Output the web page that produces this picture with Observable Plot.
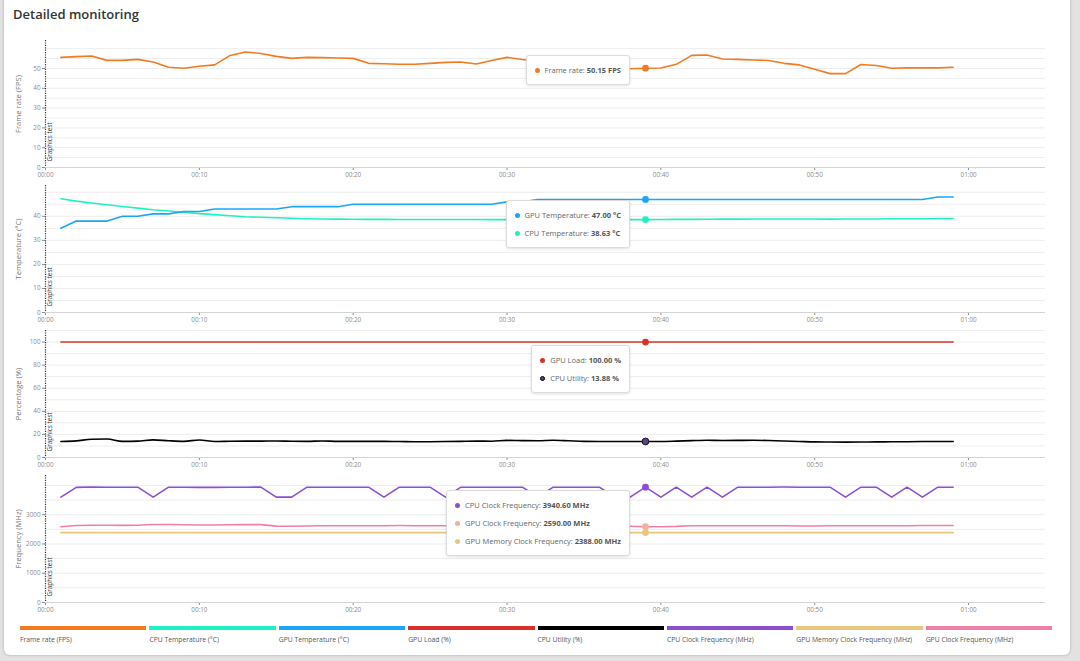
<!DOCTYPE html>
<html><head><meta charset="utf-8">
<script src="https://cdn.jsdelivr.net/npm/d3@7"></script>
<script src="https://cdn.jsdelivr.net/npm/@observablehq/plot@0.6"></script>
<style>
html,body{margin:0;padding:0;width:1080px;height:661px;overflow:hidden;background:#e2e2e2;font-family:"Open Sans",sans-serif;}
#card{position:absolute;left:4px;top:-8px;width:1066px;height:663px;background:#fff;border-radius:6px;box-shadow:0 0 3px rgba(0,0,0,.25);}
#title{position:absolute;left:13px;top:5px;font-size:13px;font-weight:600;color:#333;}
.panel{position:absolute;left:0;width:1080px;height:145px;}
.panel svg{display:block;}
.tip{position:absolute;background:#fff;border:1px solid #dcdcdc;border-radius:3px;box-shadow:0 1px 3px rgba(0,0,0,.12);padding:5px 8px 5px 8px;font-size:7.5px;line-height:18px;color:#666;white-space:nowrap;}
.tip b{color:#555;font-weight:700;}
.tip .dot{display:inline-block;width:5px;height:5px;border-radius:50%;margin-right:5px;vertical-align:middle;position:relative;top:-1px;box-sizing:border-box;}
#legend{position:absolute;left:20px;top:626px;width:1032px;display:flex;gap:3px;}
.li{flex:1}
.li .bar{height:3.5px}
.li .lab{font-size:6.8px;color:#555;margin-top:5px;white-space:nowrap}
</style></head><body>
<div id="card"></div>
<div id="title">Detailed monitoring</div>
<div id="panels"></div>
<div id="legend"></div>
<script>
const time = [1,2,3,4,5,6,7,8,9,10,11,12,13,14,15,16,17,18,19,20,21,22,23,24,25,26,27,28,29,30,31,32,33,34,35,36,37,38,39,40,41,42,43,44,45,46,47,48,49,50,51,52,53,54,55,56,57,58,59];
const xTicks = [0,10,20,30,40,50,60];

const fps = [55.6,56.0,56.3,54.1,54.1,54.6,53.3,50.6,50.1,51.1,
 51.8,56.6,58.3,57.6,56.1,55.1,55.6,55.5,55.3,55.1,
 52.6,52.4,52.1,52.1,52.6,53.1,53.3,52.3,54.0,55.6,
 54.5,53.5,52.5,51.5,51.0,50.5,50.2,49.9,50.15,50.25,
 52.1,56.6,56.8,54.8,54.6,54.3,54.0,52.6,51.8,49.6,
 47.4,47.4,52.0,51.5,50.1,50.3,50.3,50.3,50.6];
const gpuTemp = [35,38,38,38,40,40,41,41,42,42,
 43,43,43,43,43,44,44,44,44,45,
 45,45,45,45,45,45,45,45,45,46,
 46,47,47,47,47,47,47,47,47,47,
 47,47,47,47,47,47,47,47,47,47,
 47,47,47,47,47,47,47,48,48];
const cpuTemp = [47.3,46.3,45.5,44.8,44.1,43.4,42.7,42.2,41.7,41.1,
 40.7,40.2,39.8,39.6,39.4,39.2,39.0,38.9,38.8,38.75,
 38.7,38.7,38.68,38.66,38.65,38.65,38.64,38.64,38.63,38.63,
 38.63,38.63,38.63,38.63,38.63,38.63,38.63,38.63,38.63,38.65,
 38.7,38.7,38.75,38.8,38.8,38.85,38.9,38.9,38.85,38.85,
 38.8,38.85,38.9,38.9,38.95,39.0,39.0,39.05,39.1];
const gpuLoad = [100,100,100,100,100,100,100,100,100,100,
 100,100,100,100,100,100,100,100,100,100,
 100,100,100,100,100,100,100,100,100,100,
 100,100,100,100,100,100,100,100,100,100,
 100,100,100,100,100,100,100,100,100,100,
 100,100,100,100,100,100,100,100,100];
const cpuUtil = [13.8,14.4,15.8,16.0,14.0,14.2,15.3,14.5,14.0,15.2,
 13.8,14.1,14.2,14.2,14.3,14.1,14.0,14.3,14.0,14.0,
 14.0,14.0,13.8,13.7,13.7,13.8,14.0,14.2,14.1,14.8,
 14.6,14.5,14.9,14.5,14.0,13.9,13.9,13.9,13.88,13.9,
 14.2,14.6,14.9,14.7,14.8,14.9,14.7,14.3,13.9,13.5,
 13.4,13.3,13.4,13.5,13.6,13.7,13.8,13.8,13.8];
const cpuClock = [3600,3935,3945,3940,3940,3940,3600,3940,3940,3935,
 3935,3940,3940,3945,3600,3600,3940,3940,3940,3940,
 3940,3600,3940,3940,3940,3600,3940,3940,3940,3940,
 3940,3600,3940,3940,3940,3940,3600,3600,3940.6,3600,
 3940,3600,3940,3600,3940,3940,3940,3945,3940,3940,
 3940,3600,3940,3940,3600,3940,3600,3940,3940];
const gpuClock = [2590,2630,2640,2640,2635,2640,2665,2665,2655,2650,
 2650,2655,2660,2660,2610,2605,2615,2620,2620,2625,
 2620,2625,2630,2625,2625,2620,2625,2625,2620,2620,
 2620,2620,2615,2615,2615,2610,2610,2605,2590,2590,
 2600,2625,2625,2625,2625,2625,2620,2620,2615,2615,
 2620,2625,2625,2625,2625,2625,2630,2630,2630];
const gpuMemClock = [2388,2388,2388,2388,2388,2388,2388,2388,2388,2388,
 2388,2388,2388,2388,2388,2388,2388,2388,2388,2388,
 2388,2388,2388,2388,2388,2388,2388,2388,2388,2388,
 2388,2388,2388,2388,2388,2388,2388,2388,2388,2388,
 2388,2388,2388,2388,2388,2388,2388,2388,2388,2388,
 2388,2388,2388,2388,2388,2388,2388,2388,2388];

const hoverTime = 39;
const fpsTicks = [0,10,20,30,40,50];
const tempTicks = [0,10,20,30,40];
const pctTicks = [0,20,40,60,80,100];
const freqTicks = [0,1000,2000,3000];

const panels = [
  {label:"Frame rate (FPS)", ticks:fpsTicks, grid:5, series:[
    {name:"Frame rate", values:fps, color:"#f47a20", unit:"FPS"}]},
  {label:"Temperature (°C)", ticks:tempTicks, grid:5, series:[
    {name:"GPU Temperature", values:gpuTemp, color:"#1aa6f7", unit:"°C"},
    {name:"CPU Temperature", values:cpuTemp, color:"#1ff2c2", unit:"°C"}]},
  {label:"Percentage (%)", ticks:pctTicks, grid:10, series:[
    {name:"GPU Load", values:gpuLoad, color:"#d9302c", unit:"%"},
    {name:"CPU Utility", values:cpuUtil, color:"#000000", dot:"#5d3f8c", dotStroke:"#000", unit:"%", curve:"monotone-x"}]},
  {label:"Frequency (MHz)", ticks:freqTicks, grid:500, series:[
    {name:"CPU Clock Frequency", values:cpuClock, color:"#8c4fd2", unit:"MHz"},
    {name:"GPU Clock Frequency", values:gpuClock, color:"#ee80a6", dot:"#f2b09a", unit:"MHz"},
    {name:"GPU Memory Clock Frequency", values:gpuMemClock, color:"#e8c67e", unit:"MHz"}]}
];

const legendItems = [
  ["Frame rate (FPS)","#f47a20"],["CPU Temperature (°C)","#1ff2c2"],["GPU Temperature (°C)","#1aa6f7"],
  ["GPU Load (%)","#d9302c"],["CPU Utility (%)","#000000"],["CPU Clock Frequency (MHz)","#8c4fd2"],
  ["GPU Memory Clock Frequency (MHz)","#e8c67e"],["GPU Clock Frequency (MHz)","#ee80a6"]
];

const fmt = s => `${String(Math.floor(s/60)).padStart(2,"0")}:${String(s%60).padStart(2,"0")}`;
const hi = time.indexOf(hoverTime);
const container = document.getElementById("panels");

panels.forEach((p, k) => {
  const all = p.series.flatMap(s => s.values);
  const ymax = d3.max(all) * 1.1;
  const gridVals = d3.range(p.grid, ymax, p.grid);
  const marks = [
    Plot.ruleY(gridVals, {stroke:"#ededed", strokeWidth:1}),
    Plot.ruleY([0], {stroke:"#d4d4d4"}),
  ];
  [...p.series].reverse().forEach(s => {
    marks.push(Plot.line(time.map((t,i)=>({t, v:s.values[i]})), {x:"t", y:"v", stroke:s.color, strokeWidth:1.6, curve:s.curve || "linear"}));
  });
  marks.push(Plot.ruleX([0], {stroke:"#333", strokeDasharray:"1.2,1.2", strokeWidth:1.2}));
  marks.push(Plot.text(["Graphics test"], {frameAnchor:"bottom-left", rotate:-90, dx:6, dy:-6, textAnchor:"start", fill:"#333", fontSize:6.4}));
  marks.push(Plot.text([p.label], {frameAnchor:"left", rotate:-90, dx:-27, textAnchor:"middle", fill:"#777", fontSize:7.6}));
  p.series.forEach(s => {
    marks.push(Plot.dot([{t:hoverTime, v:s.values[hi]}], {x:"t", y:"v", r:3.4, fill:s.dot || s.color, stroke:s.dotStroke || "none", strokeWidth:0.8}));
  });
  const chart = Plot.plot({
    width:1080, height:145, marginLeft:45, marginRight:35, marginTop:5, marginBottom:13,
    style:{fontFamily:"Open Sans", fontSize:"6.3px", color:"#8a8a8a", background:"transparent", overflow:"visible"},
    x:{domain:[0,65], ticks:xTicks, tickFormat:fmt, tickSize:3, tickPadding:2, label:null},
    y:{domain:[0,ymax], ticks:p.ticks, tickFormat:d => String(d), tickSize:3, tickPadding:2, label:null},
    marks
  });
  const div = document.createElement("div");
  div.className = "panel";
  div.style.top = (35 + 145*k) + "px";
  div.appendChild(chart);
  const xpix = chart.scale("x").apply(hoverTime);
  const tip = document.createElement("div");
  tip.className = "tip";
  tip.style.right = (1080 - xpix + 15) + "px";
  tip.style.top = "20px";
  tip.innerHTML = p.series.map(s =>
    `<div><span class="dot" style="background:${s.dot || s.color};${s.dotStroke ? "border:1px solid "+s.dotStroke+";" : ""}"></span>${s.name}: <b>${s.values[hi].toFixed(2)} ${s.unit}</b></div>`
  ).join("");
  div.appendChild(tip);
  container.appendChild(div);
});

const legend = document.getElementById("legend");
legendItems.forEach(([name, color]) => {
  const d = document.createElement("div");
  d.className = "li";
  d.innerHTML = `<div class="bar" style="background:${color}"></div><div class="lab">${name}</div>`;
  legend.appendChild(d);
});
</script>
</body></html>
